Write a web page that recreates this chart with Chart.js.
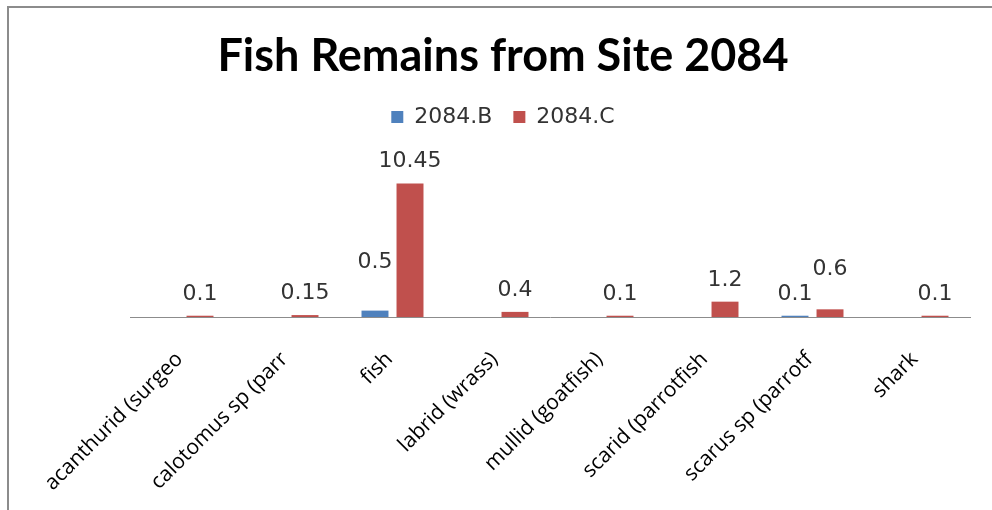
<!DOCTYPE html>
<html>
<head>
<meta charset="utf-8">
<script src="https://cdn.jsdelivr.net/npm/chart.js@4.4.1/dist/chart.umd.min.js"></script>
<style>
  html, body { margin: 0; padding: 0; background: #fff; overflow: hidden; }
  #wrap { position: relative; width: 992px; height: 510px; }
  #frame {
    position: absolute; left: 7px; top: 6px; width: 1100px; height: 600px;
    border-top: 2px solid #8c8c8c; border-left: 2px solid #8c8c8c;
  }
  #myChart { position: absolute; left: 0; top: 0; }
</style>
</head>
<body>
<div id="wrap">
  <div id="frame"></div>
  <canvas id="myChart" width="992" height="510"></canvas>
</div>
<script>
var taxa = [
  "acanthurid (surgeo",
  "calotomus sp (parr",
  "fish",
  "labrid (wrass)",
  "mullid (goatfish)",
  "scarid (parrotfish",
  "scarus sp (parrotf",
  "shark",
];
var site2084B = [null, null, 0.5, null, null, null, 0.1, null];
var site2084C = [0.1, 0.15, 10.45, 0.4, 0.1, 1.2, 0.6, 0.1];

// value labels above each bar; a few are raised so they don't collide
var valueLabels = {
  id: "valueLabels",
  afterDatasetsDraw: function (chart, args, opts) {
    var ctx = chart.ctx;
    ctx.save();
    ctx.font = opts.font;
    ctx.fillStyle = opts.color;
    ctx.textAlign = "center";
    ctx.textBaseline = "alphabetic";
    chart.data.datasets.forEach(function (ds, i) {
      chart.getDatasetMeta(i).data.forEach(function (bar, j) {
        var v = ds.data[j];
        if (v === null || v === undefined) return;
        var lift = (opts.lift[i] && opts.lift[i][j]) || 0;
        ctx.fillText(String(v), bar.x, bar.y - opts.gap - lift);
      });
    });
    ctx.restore();
  },
};

var ctx = document.getElementById("myChart");
var myChart = new Chart(ctx, {
  type: "bar",
  data: {
    labels: taxa,
    datasets: [
      {
        label: "2084.B",
        data: site2084B,
        backgroundColor: "#4f81bd",
        categoryPercentage: 0.667,
        barPercentage: 0.77,
      },
      {
        label: "2084.C",
        data: site2084C,
        backgroundColor: "#c0504d",
        categoryPercentage: 0.667,
        barPercentage: 0.77,
      },
    ],
  },
  plugins: [valueLabels],
  options: {
    responsive: false,
    animation: false,
    layout: {
      padding: { left: 14, right: 0, top: 25, bottom: 3 },
    },
    scales: {
      x: {
        grid: { display: false },
        border: { display: true, color: "#8c8c8c", width: 1 },
        ticks: {
          color: "#000",
          font: { family: "Open Sans", size: 21 },
          minRotation: 45,
          maxRotation: 45,
          autoSkip: false,
          padding: 22,
          labelOffset: -3,
        },
        // keep the plot inset from the sides while title and legend stay centred on the page
        afterFit: function (scale) {
          scale.paddingLeft = 130;
          scale.paddingRight = 22;
          scale.height = 190;
        },
      },
      y: {
        display: false,
        min: 0,
        max: 14,
      },
    },
    plugins: {
      title: {
        display: true,
        text: "Fish Remains from Site 2084",
        color: "#000",
        font: { family: "Lato", size: 45, weight: "bold" },
        padding: { top: 4, bottom: 2 },
      },
      legend: {
        display: true,
        labels: {
          boxWidth: 12,
          boxHeight: 12,
          padding: 21,
          color: "#333",
          font: { family: "DejaVu Sans", size: 22 },
        },
      },
      tooltip: { enabled: false },
      valueLabels: {
        font: "22px 'DejaVu Sans'",
        color: "#333",
        gap: 16,
        lift: [
          [0, 0, 27, 0, 0, 0, 0, 0],
          [0, 0, 0, 0, 0, 0, 18, 0],
        ],
      },
    },
  },
});
</script>
</body>
</html>
